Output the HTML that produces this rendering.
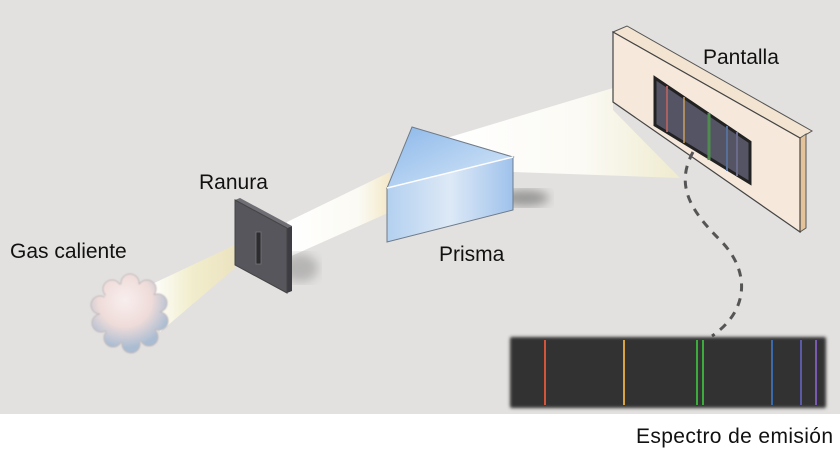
<!DOCTYPE html>
<html><head><meta charset="utf-8"><style>
html,body{margin:0;padding:0;background:#fff;}
svg{display:block;}
text{font-family:"Liberation Sans",sans-serif;font-size:21px;fill:#111;}
</style></head><body>
<svg width="840" height="454" viewBox="0 0 840 454" xmlns="http://www.w3.org/2000/svg">
<defs>
<linearGradient id="b1" x1="0" y1="0" x2="1" y2="0"><stop offset="0" stop-color="#fff"/><stop offset="0.5" stop-color="#f1edcc"/><stop offset="1" stop-color="#ece3c0"/></linearGradient>
<linearGradient id="b2" x1="0" y1="0" x2="1" y2="0"><stop offset="0" stop-color="#fff"/><stop offset="0.7" stop-color="#fbfaf3"/><stop offset="1" stop-color="#f3e8c8"/></linearGradient>
<linearGradient id="b3" x1="0" y1="0" x2="1" y2="0"><stop offset="0" stop-color="#fff"/><stop offset="0.6" stop-color="#fbfaf4"/><stop offset="1" stop-color="#efebcf"/></linearGradient>
<linearGradient id="pt" x1="0" y1="0" x2="1" y2="1"><stop offset="0" stop-color="#8cb8ea"/><stop offset="1" stop-color="#d8e8f8"/></linearGradient>
<linearGradient id="pf" x1="0" y1="0" x2="1" y2="0"><stop offset="0" stop-color="#b3d0f0"/><stop offset="0.5" stop-color="#dde9f6"/><stop offset="1" stop-color="#9fc2ec"/></linearGradient>
<radialGradient id="cl" gradientUnits="userSpaceOnUse" cx="125" cy="300" r="48"><stop offset="0" stop-color="#f8eeee"/><stop offset="0.55" stop-color="#efdcd9"/><stop offset="1" stop-color="#a9bcd2"/></radialGradient>
<filter id="bl"><feGaussianBlur stdDeviation="5"/></filter>
<filter id="bs"><feGaussianBlur stdDeviation="1.5"/></filter>
<filter id="cs"><feGaussianBlur stdDeviation="0.8"/></filter>
</defs>
<rect x="0" y="0" width="840" height="414" fill="#e2e1df"/>
<polygon points="150,285 235,245 235,268 160,332" fill="url(#b1)"/>
<polygon points="287,222 390,172 390,212 287,258" fill="url(#b2)"/>
<polygon points="440,140 613,88 613,110 680,178 513,172 513,160" fill="url(#b3)"/>
<ellipse cx="300" cy="268" rx="18" ry="14" fill="#8a8a8a" opacity="0.5" filter="url(#bl)"/>
<ellipse cx="525" cy="198" rx="24" ry="8" fill="#666" opacity="0.6" filter="url(#bl)"/>
<!-- cloud -->
<g fill="url(#cl)" stroke="#c0b8bc" stroke-width="1" filter="url(#cs)">
<circle cx="130" cy="283" r="9"/><circle cx="147" cy="289" r="9"/><circle cx="158" cy="303" r="9"/>
<circle cx="159" cy="321" r="9"/><circle cx="149" cy="337" r="9"/><circle cx="131" cy="344" r="9"/>
<circle cx="113" cy="338" r="9"/><circle cx="101" cy="323" r="9"/><circle cx="100" cy="305" r="9"/>
<circle cx="112" cy="289" r="9"/>
</g>
<circle cx="130" cy="313" r="30" fill="url(#cl)" filter="url(#cs)"/>
<!-- slit -->
<polygon points="235,200 240,198 292,226 287,228" fill="#6e6e74"/>
<polygon points="287,228 292,226 292,291 287,293" fill="#3c3c42"/>
<polygon points="235,200 287,228 287,293 235,265" fill="#56565c" stroke="#444" stroke-width="1"/>
<rect x="256" y="232" width="5" height="32" fill="#2b2b30" stroke="#777" stroke-width="0.8"/>
<!-- prism -->
<polygon points="412,127 513,157 387,188" fill="url(#pt)" stroke="#6f7b88" stroke-width="1"/>
<polygon points="387,188 513,157 513,210 387,242" fill="url(#pf)" stroke="#6f7b88" stroke-width="1"/>
<line x1="387" y1="188" x2="513" y2="157" stroke="#fff" stroke-width="1.5"/>
<!-- screen -->
<polygon points="613,32 627,26 812,131 800,138" fill="#f3e4d2" stroke="#555" stroke-width="1"/>
<polygon points="800,138 806,134 806,228 800,232" fill="#e4c29a" stroke="#555" stroke-width="1"/>
<polygon points="613,32 800,138 800,232 613,102" fill="#f6e9dc" stroke="#444" stroke-width="1.2"/>
<polygon points="655,78 750,142 750,183 655,125" fill="#545465" stroke="#222" stroke-width="3"/>
<line x1="667" y1="86" x2="667" y2="132" stroke="#a86060" stroke-width="2"/>
<line x1="684" y1="97" x2="684" y2="143" stroke="#c8a060" stroke-width="1.5"/>
<line x1="709" y1="113" x2="709" y2="160" stroke="#4f8a4f" stroke-width="3"/>
<line x1="727" y1="126" x2="727" y2="171" stroke="#56709a" stroke-width="2"/>
<line x1="737" y1="132" x2="737" y2="176" stroke="#6a6a8a" stroke-width="2"/>
<path d="M693,152 C675,185 690,210 720,240 C750,270 750,310 712,336" fill="none" stroke="#555" stroke-width="3" stroke-dasharray="8 7"/>
<!-- spectrum -->
<rect x="510" y="337" width="316" height="71" fill="#333" rx="2" filter="url(#bs)"/>
<g stroke-width="2">
<line x1="545" y1="340" x2="545" y2="405" stroke="#d2553a"/>
<line x1="624" y1="340" x2="624" y2="405" stroke="#d9a440"/>
<line x1="697" y1="340" x2="697" y2="405" stroke="#3caa3c"/>
<line x1="703" y1="340" x2="703" y2="405" stroke="#3caa3c"/>
<line x1="772" y1="340" x2="772" y2="405" stroke="#3a6aaa"/>
<line x1="801" y1="340" x2="801" y2="405" stroke="#5a5aa8"/>
<line x1="816" y1="340" x2="816" y2="405" stroke="#7a5ab0"/>
</g>
<text x="10" y="258">Gas caliente</text>
<text x="199" y="189">Ranura</text>
<text x="439" y="261">Prisma</text>
<text x="703" y="64">Pantalla</text>
<text x="636" y="443" textLength="197">Espectro de emisión</text>
</svg>
</body></html>
